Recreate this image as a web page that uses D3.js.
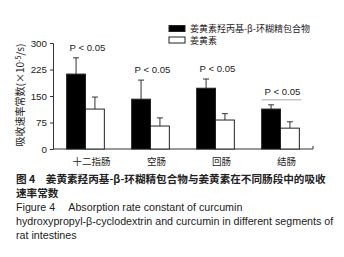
<!DOCTYPE html>
<html>
<head>
<meta charset="utf-8">
<script src="https://cdn.jsdelivr.net/npm/d3@7"></script>
<style>
  body { margin: 0; background: #fff; }
  text { font-family: "Liberation Sans", Arial, sans-serif; fill: #222; }
  .cjk { font-family: "Noto Sans CJK SC", sans-serif; }
</style>
</head>
<body>
<div id="chart"></div>
<script>
// Data
const categories = ['十二指肠', '空肠', '回肠', '结肠']
const seriesNames = ['姜黄素羟丙基-β-环糊精包合物', '姜黄素']
const complexMean = [212, 141, 172, 113]
const complexErr = [46, 54, 26, 12]
const curcuminMean = [113, 65, 82, 59]
const curcuminErr = [34, 23, 18, 18]
const pLabels = ['P < 0.05', 'P < 0.05', 'P < 0.05', 'P < 0.05']
const yTicks = [0, 75, 150, 225, 300]

const width = 344, height = 257
const margin = { left: 53, right: 31, top: 43, bottom: 108 }

const svg = d3.select('#chart')
  .append('svg')
  .attr('width', width)
  .attr('height', height)

// scales
const x = d3.scaleBand()
  .domain(categories)
  .range([margin.left, width - margin.right])
  .paddingInner(0.42)
  .paddingOuter(0.21)

const y = d3.scaleLinear()
  .domain([0, 300])
  .range([height - margin.bottom, margin.top])

const bw = x.bandwidth() / 2

// axes
const yAxis = svg.append('g')
  .attr('transform', `translate(${margin.left},0)`)
  .call(d3.axisLeft(y).tickValues(yTicks).tickSize(3).tickPadding(3))
yAxis.select('.domain').attr('stroke', '#333')
yAxis.selectAll('.tick line').attr('stroke', '#333')
yAxis.selectAll('.tick text')
  .style('font-family', '"Liberation Sans", Arial, sans-serif')
  .style('font-size', '9.8px')
  .attr('fill', '#222')

svg.append('line')
  .attr('x1', margin.left).attr('x2', width - margin.right)
  .attr('y1', y(0)).attr('y2', y(0))
  .attr('stroke', '#333')
svg.append('line')
  .attr('x1', width - margin.right).attr('x2', width - margin.right)
  .attr('y1', y(0)).attr('y2', y(0) - 3)
  .attr('stroke', '#333')

// bars
const groups = svg.append('g')
  .selectAll('g')
  .data(categories)
  .join('g')

function drawSeries(values, errs, offset, fill) {
  groups.append('line')
    .attr('x1', (d, i) => x(d) + offset + bw / 2)
    .attr('x2', (d, i) => x(d) + offset + bw / 2)
    .attr('y1', (d, i) => y(values[i]))
    .attr('y2', (d, i) => y(values[i] + errs[i]))
    .attr('stroke', '#333')
  groups.append('line')
    .attr('x1', (d, i) => x(d) + offset + bw / 2 - 3)
    .attr('x2', (d, i) => x(d) + offset + bw / 2 + 3)
    .attr('y1', (d, i) => y(values[i] + errs[i]))
    .attr('y2', (d, i) => y(values[i] + errs[i]))
    .attr('stroke', '#333')
  groups.append('rect')
    .attr('x', (d, i) => x(d) + offset)
    .attr('y', (d, i) => y(values[i]))
    .attr('width', bw)
    .attr('height', (d, i) => y(0) - y(values[i]))
    .attr('fill', fill)
    .attr('stroke', '#222')
    .attr('stroke-width', 1)
}
drawSeries(complexMean, complexErr, 0, '#000')
drawSeries(curcuminMean, curcuminErr, bw, '#fff')

// significance labels
const pTop = complexMean.map((v, i) => Math.max(v + complexErr[i], curcuminMean[i] + curcuminErr[i]))
groups.append('text')
  .attr('x', (d, i) => x(d) + x.bandwidth() / 2 + 2)
  .attr('y', (d, i) => y(pTop[i]) - (i === 3 ? 10 : 7))
  .attr('text-anchor', 'middle')
  .style('font-size', '9.6px')
  .text((d, i) => pLabels[i])
svg.append('line')
  .attr('x1', x(categories[3]))
  .attr('x2', x(categories[3]) + x.bandwidth() + 2)
  .attr('y1', y(pTop[3]) - 5)
  .attr('y2', y(pTop[3]) - 5)
  .attr('stroke', '#aaa')

// category labels
svg.append('g')
  .selectAll('text')
  .data(categories)
  .join('text')
  .attr('class', 'cjk')
  .attr('x', d => x(d) + x.bandwidth() / 2 + 6)
  .attr('y', y(0) + 16)
  .attr('text-anchor', 'middle')
  .style('font-size', '9.5px')
  .text(d => d)

// y label
svg.append('text')
  .attr('class', 'cjk')
  .attr('transform', `translate(24,${y(150) - 1}) rotate(-90)`)
  .attr('text-anchor', 'middle')
  .style('font-size', '10px')
  .html('吸收速率常数(×10<tspan dy="-3" font-size="7">-5</tspan><tspan dy="3">/s)</tspan>')

// legend
const legend = svg.append('g')
  .selectAll('g')
  .data(seriesNames)
  .join('g')
  .attr('transform', (d, i) => `translate(169,${25.5 + i * 11.5})`)
legend.append('rect')
  .attr('width', 16).attr('height', 6)
  .attr('fill', (d, i) => i === 0 ? '#000' : '#fff')
  .attr('stroke', '#222')
legend.append('text')
  .attr('class', 'cjk')
  .attr('x', 21).attr('y', 6.5)
  .style('font-size', '9px')
  .text(d => d)

// caption
const caption = [
  ['图 4\u2002\u2002姜黄素羟丙基-β-环糊精包合物与姜黄素在不同肠段中的吸收', true],
  ['速率常数', true],
  ['Figure 4\u2003 Absorption rate constant of curcumin', false],
  ['hydroxypropyl-β-cyclodextrin and curcumin in different segments of', false],
  ['rat intestines', false]
]
svg.append('g')
  .selectAll('text')
  .data(caption)
  .join('text')
  .attr('class', d => d[1] ? 'cjk' : null)
  .attr('x', 16)
  .attr('y', (d, i) => 183 + i * 14)
  .style('font-size', d => d[1] ? '10.6px' : '10.7px')
  .style('font-weight', d => d[1] ? 'bold' : 'normal')
  .text(d => d[0])
</script>
</body>
</html>
